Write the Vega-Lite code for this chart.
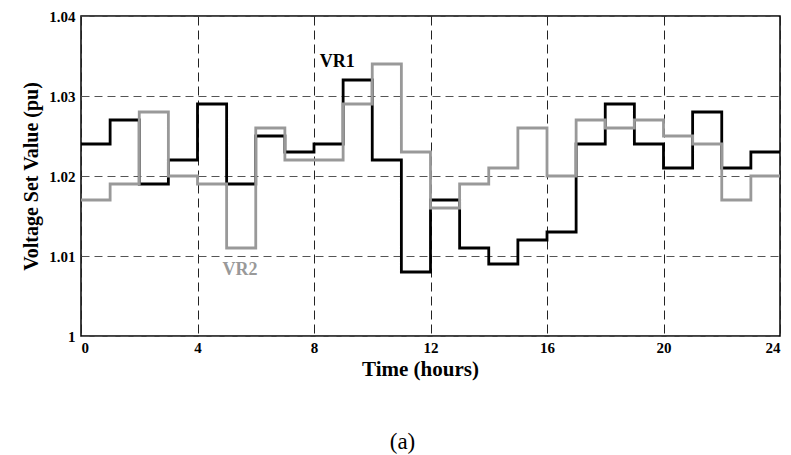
{
  "$schema": "https://vega.github.io/schema/vega-lite/v6.json",
  "autosize": "none",
  "width": 699,
  "height": 320,
  "padding": {"left": 81, "top": 16, "right": 11, "bottom": 119},
  "background": "white",
  "config": {
    "view": {"stroke": "black", "strokeWidth": 1.5},
    "font": "Liberation Serif"
  },
  "title": {
    "text": "(a)",
    "orient": "bottom",
    "anchor": "middle",
    "font": "Liberation Serif",
    "fontSize": 23,
    "fontWeight": "normal",
    "color": "black",
    "offset": 52,
    "dx": -28
  },
  "datasets": {
    "series": [
      {"hour": 0, "v": 1.024, "vr": "VR1"},
      {"hour": 1, "v": 1.027, "vr": "VR1"},
      {"hour": 2, "v": 1.019, "vr": "VR1"},
      {"hour": 3, "v": 1.022, "vr": "VR1"},
      {"hour": 4, "v": 1.029, "vr": "VR1"},
      {"hour": 5, "v": 1.019, "vr": "VR1"},
      {"hour": 6, "v": 1.025, "vr": "VR1"},
      {"hour": 7, "v": 1.023, "vr": "VR1"},
      {"hour": 8, "v": 1.024, "vr": "VR1"},
      {"hour": 9, "v": 1.032, "vr": "VR1"},
      {"hour": 10, "v": 1.022, "vr": "VR1"},
      {"hour": 11, "v": 1.008, "vr": "VR1"},
      {"hour": 12, "v": 1.017, "vr": "VR1"},
      {"hour": 13, "v": 1.011, "vr": "VR1"},
      {"hour": 14, "v": 1.009, "vr": "VR1"},
      {"hour": 15, "v": 1.012, "vr": "VR1"},
      {"hour": 16, "v": 1.013, "vr": "VR1"},
      {"hour": 17, "v": 1.024, "vr": "VR1"},
      {"hour": 18, "v": 1.029, "vr": "VR1"},
      {"hour": 19, "v": 1.024, "vr": "VR1"},
      {"hour": 20, "v": 1.021, "vr": "VR1"},
      {"hour": 21, "v": 1.028, "vr": "VR1"},
      {"hour": 22, "v": 1.021, "vr": "VR1"},
      {"hour": 23, "v": 1.023, "vr": "VR1"},
      {"hour": 24, "v": 1.023, "vr": "VR1"},
      {"hour": 0, "v": 1.017, "vr": "VR2"},
      {"hour": 1, "v": 1.019, "vr": "VR2"},
      {"hour": 2, "v": 1.028, "vr": "VR2"},
      {"hour": 3, "v": 1.020, "vr": "VR2"},
      {"hour": 4, "v": 1.019, "vr": "VR2"},
      {"hour": 5, "v": 1.011, "vr": "VR2"},
      {"hour": 6, "v": 1.026, "vr": "VR2"},
      {"hour": 7, "v": 1.022, "vr": "VR2"},
      {"hour": 8, "v": 1.022, "vr": "VR2"},
      {"hour": 9, "v": 1.029, "vr": "VR2"},
      {"hour": 10, "v": 1.034, "vr": "VR2"},
      {"hour": 11, "v": 1.023, "vr": "VR2"},
      {"hour": 12, "v": 1.016, "vr": "VR2"},
      {"hour": 13, "v": 1.019, "vr": "VR2"},
      {"hour": 14, "v": 1.021, "vr": "VR2"},
      {"hour": 15, "v": 1.026, "vr": "VR2"},
      {"hour": 16, "v": 1.020, "vr": "VR2"},
      {"hour": 17, "v": 1.027, "vr": "VR2"},
      {"hour": 18, "v": 1.026, "vr": "VR2"},
      {"hour": 19, "v": 1.027, "vr": "VR2"},
      {"hour": 20, "v": 1.025, "vr": "VR2"},
      {"hour": 21, "v": 1.024, "vr": "VR2"},
      {"hour": 22, "v": 1.017, "vr": "VR2"},
      {"hour": 23, "v": 1.020, "vr": "VR2"},
      {"hour": 24, "v": 1.020, "vr": "VR2"}
    ],
    "labels": [
      {"hour": 8.8, "v": 1.0343, "vr": "VR1"},
      {"hour": 5.46, "v": 1.0083, "vr": "VR2"}
    ]
  },
  "layer": [
    {
      "data": {"name": "series"},
      "mark": {"type": "line", "interpolate": "step-after", "strokeWidth": 2.8, "strokeJoin": "miter", "strokeCap": "butt"},
      "encoding": {
        "x": {
          "field": "hour", "type": "quantitative",
          "scale": {"domain": [0, 24], "nice": false},
          "axis": {
            "values": [0, 4, 8, 12, 16, 20, 24],
            "title": "Time (hours)",
            "titleFont": "Liberation Serif", "titleFontSize": 21, "titleFontWeight": "bold", "titleColor": "black",
            "titlePadding": 3,
            "titleX": 339,
            "labelFont": "Liberation Serif", "labelFontSize": 15, "labelFontWeight": "bold", "labelColor": "black",
            "labelPadding": 4,
            "domain": false,
            "ticks": false,
            "grid": true, "gridColor": "#222", "gridDash": [9, 5], "gridWidth": 1
          }
        },
        "y": {
          "field": "v", "type": "quantitative",
          "scale": {"domain": [1, 1.04], "nice": false, "zero": false},
          "axis": {
            "values": [1, 1.01, 1.02, 1.03, 1.04],
            "labelExpr": "datum.value == 1 ? '1' : format(datum.value, '.2f')",
            "title": "Voltage Set Value (pu)",
            "titleFont": "Liberation Serif", "titleFontSize": 20, "titleFontWeight": "bold", "titleColor": "black",
            "titlePadding": 7,
            "labelFont": "Liberation Serif", "labelFontSize": 15, "labelFontWeight": "bold", "labelColor": "black",
            "labelPadding": 6,
            "domain": false,
            "ticks": false,
            "grid": true, "gridColor": "#555", "gridDash": [8, 5], "gridWidth": 1
          }
        },
        "color": {
          "field": "vr", "type": "nominal",
          "scale": {"domain": ["VR1", "VR2"], "range": ["#000000", "#999999"]},
          "legend": null
        }
      }
    },
    {
      "data": {"name": "labels"},
      "mark": {"type": "text", "font": "Liberation Serif", "fontSize": 18, "fontWeight": "bold"},
      "encoding": {
        "x": {"field": "hour", "type": "quantitative"},
        "y": {"field": "v", "type": "quantitative"},
        "text": {"field": "vr"},
        "color": {
          "field": "vr", "type": "nominal",
          "scale": {"domain": ["VR1", "VR2"], "range": ["#000000", "#999999"]},
          "legend": null
        }
      }
    }
  ]
}
